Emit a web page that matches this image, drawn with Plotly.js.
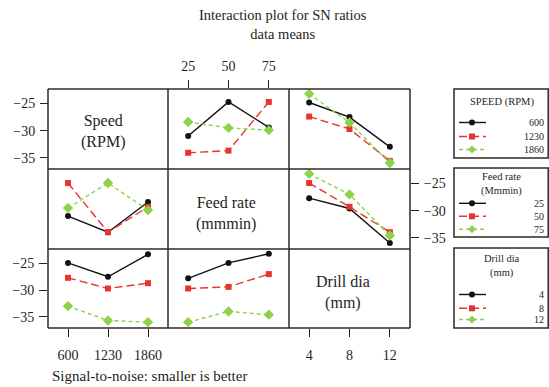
<!DOCTYPE html>
<html>
<head>
<meta charset="utf-8">
<script src="https://cdn.plot.ly/plotly-3.0.1.min.js"></script>
<style>html,body{margin:0;padding:0;background:#fff;}#chart{width:549px;height:387px;}</style>
</head>
<body>
<div id="chart"></div>
<script>
// ---- data ----
const speedLevels = ['600', '1230', '1860'];
const feedLevels = ['25', '50', '75'];
const drillLevels = ['4', '8', '12'];

// Row 1: lines = Speed levels
const speedByFeed = [[-31.0, -24.7, -29.4], [-34.1, -33.7, -24.7], [-28.4, -29.5, -29.9]];
const speedByDrill = [[-24.8, -27.5, -33.0], [-27.4, -29.7, -35.6], [-23.2, -28.5, -36.0]];
// Row 2: lines = Feed rate levels
const feedBySpeed = [[-31.0, -34.0, -28.4], [-24.9, -34.0, -29.3], [-29.5, -24.9, -29.9]];
const feedByDrill = [[-27.7, -29.6, -36.0], [-24.9, -29.3, -34.0], [-23.2, -27.0, -34.6]];
// Row 3: lines = Drill dia levels
const drillBySpeed = [[-24.9, -27.5, -23.3], [-27.7, -29.7, -28.7], [-33.0, -35.7, -36.0]];
const drillByFeed = [[-27.8, -24.9, -23.2], [-29.7, -29.4, -27.0], [-36.0, -34.0, -34.6]];

const yTicks = [-25, -30, -35];

// ---- layout helpers ----
const W = 549, H = 387;
const px = x => x / W;
const py = y => 1 - y / H;
const FONT = 'Liberation Serif, Times New Roman, serif';
const TXT = '#231f20';

const styles = [
  {color: '#111111', dash: 'solid', symbol: 'circle', size: 6},
  {color: '#e8352b', dash: '8px,4px', symbol: 'square', size: 6},
  {color: '#8ed24c', dash: '4px,3px', symbol: 'diamond', size: 8}
];

const traces = [];
function addGroup(xs, series, xa, ya) {
  series.forEach((ys, i) => {
    const s = styles[i];
    traces.push({
      type: 'scatter', mode: 'lines+markers', x: xs, y: ys, xaxis: xa, yaxis: ya,
      line: {color: s.color, width: 1.4, dash: s.dash},
      marker: {color: s.color, symbol: s.symbol, size: s.size},
      showlegend: false, hoverinfo: 'skip', cliponaxis: false
    });
  });
}
addGroup(feedLevels, speedByFeed, 'x2', 'y');
addGroup(drillLevels, speedByDrill, 'x3', 'y');
addGroup(speedLevels, feedBySpeed, 'x', 'y2');
addGroup(drillLevels, feedByDrill, 'x3', 'y2');
addGroup(speedLevels, drillBySpeed, 'x', 'y3');
addGroup(feedLevels, drillByFeed, 'x2', 'y3');

const yr = [-37.1, -22.3];
const tickfont = {family: FONT, size: 14, color: TXT};
const baseX = {type: 'category', range: [-0.5, 2.5], showgrid: false, zeroline: false, showline: false,
  ticks: 'outside', ticklen: 8, tickwidth: 1, tickcolor: '#222', tickfont: tickfont, ticklabelstandoff: 4, fixedrange: true};
const baseY = {range: yr, showgrid: false, zeroline: false, showline: false, tickvals: yTicks,
  ticks: 'outside', ticklen: 8, tickwidth: 1, tickcolor: '#222', tickfont: tickfont, ticklabelstandoff: 2, fixedrange: true};

const layout = {
  width: W, height: H,
  margin: {l: 0, r: 0, t: 0, b: 0},
  paper_bgcolor: '#fff', plot_bgcolor: 'rgba(0,0,0,0)',
  showlegend: false,
  xaxis: Object.assign({}, baseX, {domain: [px(48), px(168)], categoryarray: speedLevels, anchor: 'y3', side: 'bottom', ticklabelstandoff: 6}),
  xaxis2: Object.assign({}, baseX, {domain: [px(168), px(289)], categoryarray: feedLevels, anchor: 'y', side: 'top', ticklabelstandoff: 3}),
  xaxis3: Object.assign({}, baseX, {domain: [px(289), px(410)], categoryarray: drillLevels, anchor: 'free', position: py(328), side: 'bottom', ticklabelstandoff: 6}),
  yaxis: Object.assign({}, baseY, {domain: [py(169), py(89)], anchor: 'free', position: px(48), side: 'left'}),
  yaxis2: Object.assign({}, baseY, {domain: [py(249), py(169)], anchor: 'x3', side: 'right'}),
  yaxis3: Object.assign({}, baseY, {domain: [py(328), py(249)], anchor: 'x', side: 'left'}),
  shapes: [], annotations: []
};

// grid frame
const gridLine = {color: '#2a2a2a', width: 1.5};
[48, 168, 289, 410].forEach(x => layout.shapes.push({type: 'line', xref: 'paper', yref: 'paper', x0: px(x), x1: px(x), y0: py(89), y1: py(328), line: gridLine}));
[89, 169, 249, 328].forEach(y => layout.shapes.push({type: 'line', xref: 'paper', yref: 'paper', x0: px(48), x1: px(410), y0: py(y), y1: py(y), line: gridLine}));

function text(t, x, y, size, opts) {
  layout.annotations.push(Object.assign({text: t, xref: 'paper', yref: 'paper', x: px(x), y: py(y),
    xanchor: 'center', yanchor: 'middle', showarrow: false, font: {family: FONT, size: size, color: TXT}}, opts || {}));
}

// titles
text('Interaction plot for SN ratios<br>data means', 283, 25, 14.5);
text('Signal-to-noise: smaller is better', 50, 376, 15, {xanchor: 'left'});

// diagonal labels
text('Speed<br>(RPM)', 103, 132, 16);
text('Feed rate<br>(mmmin)', 226, 213.5, 16);
text('Drill dia<br>(mm)', 343, 292, 16);

// legends
const legends = [
  {box: [89, 158], title: 'SPEED (RPM)', titleY: 101.5, labels: speedLevels, rows: [122.5, 136.5, 149.5]},
  {box: [168, 237], title: 'Feed rate<br>(Mmmin)', titleY: 184, labels: feedLevels, rows: [203.3, 216.3, 229.3]},
  {box: [248, 328], title: 'Drill dia<br>(mm)', titleY: 266, labels: drillLevels, rows: [294.5, 308.3, 319.5]}
];
legends.forEach(lg => {
  layout.shapes.push({type: 'rect', xref: 'paper', yref: 'paper', x0: px(454), x1: px(548.2), y0: py(lg.box[0]), y1: py(lg.box[1]),
    line: {color: '#2a2a2a', width: 1.5}, fillcolor: 'rgba(0,0,0,0)'});
  text(lg.title, 501.5, lg.titleY, 10.5);
  lg.labels.forEach((lab, i) => {
    const s = styles[i], y = lg.rows[i];
    layout.shapes.push({type: 'line', xref: 'paper', yref: 'paper', x0: px(459), x1: px(486), y0: py(y), y1: py(y),
      line: {color: s.color, width: 1.4, dash: s.dash}});
    const cx = 472, r = s.size / 2;
    if (s.symbol === 'circle') {
      layout.shapes.push({type: 'circle', xref: 'paper', yref: 'paper', x0: px(cx - r), x1: px(cx + r), y0: py(y - r), y1: py(y + r),
        fillcolor: s.color, line: {width: 0}});
    } else if (s.symbol === 'square') {
      layout.shapes.push({type: 'rect', xref: 'paper', yref: 'paper', x0: px(cx - r), x1: px(cx + r), y0: py(y - r), y1: py(y + r),
        fillcolor: s.color, line: {width: 0}});
    } else {
      const p = `M ${px(cx)} ${py(y - r)} L ${px(cx + r)} ${py(y)} L ${px(cx)} ${py(y + r)} L ${px(cx - r)} ${py(y)} Z`;
      layout.shapes.push({type: 'path', xref: 'paper', yref: 'paper', path: p, fillcolor: s.color, line: {width: 0}});
    }
    text(lab, 546, y, 10, {xanchor: 'right'});
  });
});

Plotly.newPlot('chart', traces, layout, {displayModeBar: false, staticPlot: true});
</script>
</body>
</html>
